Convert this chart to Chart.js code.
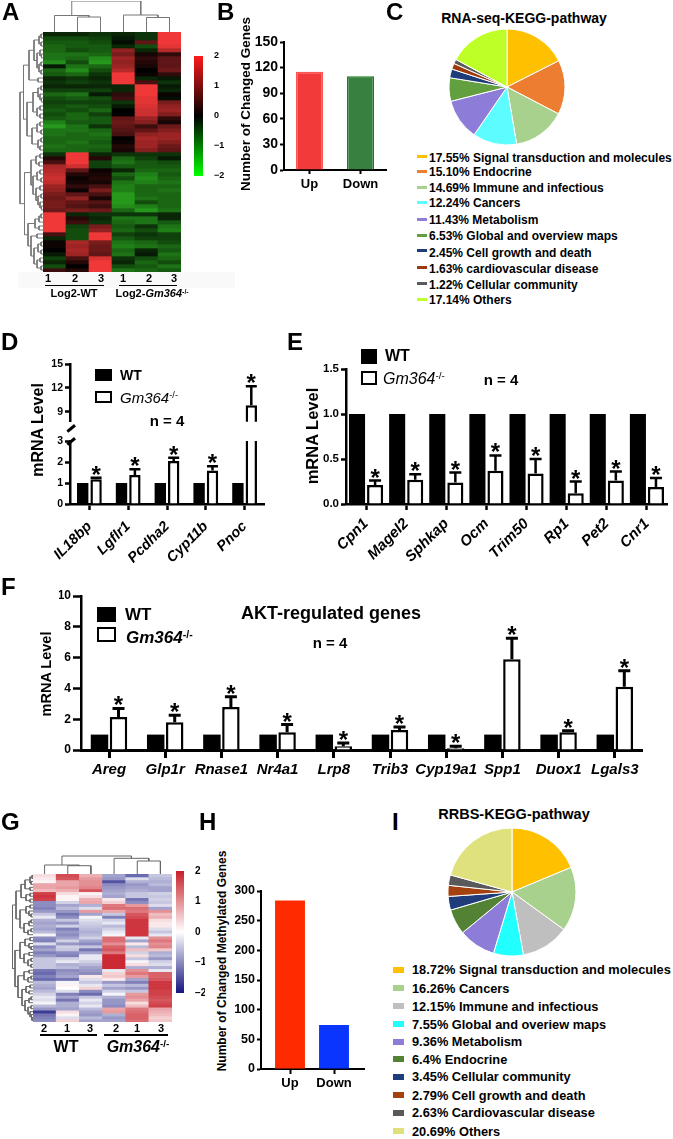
<!DOCTYPE html>
<html><head><meta charset="utf-8">
<style>
html,body{margin:0;padding:0;background:#fff;width:673px;height:1139px;overflow:hidden;position:relative}
canvas{position:absolute;display:block}
.t{position:absolute;white-space:nowrap;line-height:1;color:#000;font-family:"Liberation Sans",Arial,sans-serif}
.b{position:absolute}
sup{font-size:.62em;vertical-align:baseline;position:relative;top:-.5em}
</style>
<script src="https://cdn.jsdelivr.net/npm/chart.js@4"></script>
</head><body>
<script>
// ---------- data ----------
const heatARows=[
[-.3,-.3,-.4,-.3,-.4,2],[-.6,-.6,-.5,-.2,-.4,2],[-.7,-.7,-.6,-.1,.8,2],[-.8,-.7,-.7,-.3,-.6,1.9],[-.8,-.6,-.7,1.2,-.3,1.5],
[-.9,-.9,-.8,1,.2,.4],[-.9,-.8,-1.1,1.3,.4,.8],[-1.1,-.6,-1.2,1.2,.3,.8],[-.2,-.9,-.8,1.3,.2,.8],[-.8,-1.1,-.6,1.5,0,.9],
[-.7,-.8,-.4,2,.1,.4],[-.3,-.4,-.3,2,-.3,-.2],[-.4,-.5,-.4,2,.6,-.4],[-.3,-.3,-.3,-.3,2,-.2],[-.5,-.5,-.5,-.3,2,-.3],
[-.8,-.9,-.2,.4,2,.1],[-.6,-.7,-.6,.5,1.9,-.1],[-.5,-.5,-.5,-.4,1.9,1],[-.6,-.7,-.6,-.2,1.8,1.2],[-.7,-.6,-.8,0,1.7,1.3],
[-.6,-.8,-.5,0,1.7,1.1],[-.7,-.8,-.7,.8,1.3,.4],[-1,-.7,-.7,.9,1.1,.2],[-1.2,-.9,-.4,.8,.5,.9],[-.9,-.9,-.8,.7,.8,1.1],
[-.9,-.8,-.9,.6,1.2,1.3],[-.8,-.8,-.8,0,1.4,1.3],[-.8,-.9,-.7,.1,1.3,1.1],[-.9,-.8,-.8,.3,1.3,.9],[-.8,-.8,-.7,.2,1.1,.8],
[-.4,2,-.3,-.4,-.4,-.4],[.3,2,.3,-.8,-.5,-.2],[.6,2,-.5,-.9,-.7,-.6],[1.4,1.7,-.5,-.7,-.7,-.7],[1.5,.8,.1,-.3,-.8,-.8],
[1.6,.3,.2,-.8,-1,-.7],[1.7,.1,.3,-.6,-1.1,-.8],[1.6,.2,.2,-.9,-1,-.9],[1.3,.4,.6,-1,-.8,-.8],[1.2,.1,1,-1,-.8,-.9],
[1,.8,.6,-1.2,-.8,-.8],[.9,1.2,.2,-1.2,-.9,-.8],[1,.8,.7,-1.2,-.6,-.8],[1,.7,.5,-1.1,-1,-.8],[.9,1,.9,-.8,-1.2,-.9],
[2,-.3,-.4,-.4,-.4,-.3],[2,.3,-.3,-.9,-.9,-.3],[2,.5,-.4,-.8,-.9,-.7],[2,-.5,1,-.7,-.4,-.9],[2,-.6,1.2,-.8,-.6,-1],
[.6,-.6,2,-.5,-.4,-.5],[-.3,-.6,2,-.7,-.5,-.5],[.1,1.4,1,-.9,-.8,-.6],[.1,1.3,.9,-1,-.9,-.8],[0,1.4,.9,-.8,-.3,-.7],
[-.2,1.3,.8,-.9,-.2,-.9],[-.5,.6,1.8,-.4,-.6,-.8],[-.3,.3,2,-.3,-.8,-.6],[-.6,0,2,-.6,-.7,-.9],[.5,.3,2,-.9,-.8,-.7]];
const heatGRows=[
[.3,1.6,.7,-.8,-1.3,-.5],[.2,1.5,.9,-.9,-.3,-.6],[.1,.8,1,-1.5,-.7,-.7],[.8,.8,1,-1,-.9,-.6],[.8,.9,1.1,-.9,-.8,-.8],
[.6,.7,1.5,-.8,-.7,-.8],[1.7,.3,.1,-.7,-.5,-.4],[1.8,.1,.3,-.8,-.5,-.5],[1.7,.1,.7,.2,-1.2,-.4],[-1,-.4,.8,.4,-1,-.5],
[-1,-.8,-.7,1.2,.9,-.3],[-1.1,-.6,-.3,1.3,1.3,-.8],[-.9,-.9,.9,.8,1.2,1],[-.5,-1.2,-.8,-.5,1.5,.6],[-.2,-1,-.1,-1.1,1.6,.7],
[-.7,-.5,-.3,-.4,1.8,.3],[-.8,-.9,-.4,-.2,1.8,.2],[-.7,-.4,-.5,-.6,1.8,.2],[-.8,-1.1,-.6,-.4,1.8,-.3],[-.6,-.9,-.7,-.2,1.8,-.5],
[-.1,-1,-.6,-.1,1.8,-.2],[-1,-.8,-.4,1.3,-.2,1],[-1.1,-.4,-.8,1.3,-.8,1.2],[-.3,-.9,-1,1,.2,1],[-1,-.4,-.5,1.4,-.6,1.1],
[-.8,-.5,-1.2,1.5,.6,.5],[-1.1,-1,-.8,1.2,-.4,-.7],[-.9,-1.1,-.2,1.9,.3,-.6],[-.5,-.4,-.2,1.9,-.5,-.9],[-.5,-.2,-.4,1.9,-.1,-.4],
[-.5,-.7,-.6,1.9,.3,-.3],[-.5,-.6,-.8,1.9,-.7,-.7],[-1.2,-1,-.9,-.2,1,-.2],[-1.3,-.9,-1,.4,1.2,1.4],[-1.1,-.8,.2,.5,.9,1.4],
[-1.3,-1.2,-.3,.2,-.8,1.5],[-.6,-.1,-.5,-.9,-1.1,1.8],[-.7,.1,-.2,-.5,-.6,1.8],[-.8,0,.4,-.8,-.9,1.8],[-.6,-.3,-1,-.4,-.5,1.7],
[-.4,-1.1,-1.3,-.1,.9,1.7],[-.2,-.8,-.5,-.7,1,1.6],[-.3,-1.2,-.2,-.9,.8,1.5],[-.1,-.7,-.4,-.9,.3,1.6],[-.6,-.7,-.2,-1,.6,1.7],
[-.9,-.8,-.6,.8,1.2,.8],[-1.7,.3,-.8,.9,1.3,.7],[-1.2,.1,-.9,-.7,1.4,.6],[-1.1,-.3,-.6,-.9,1.4,.4],[-1,.4,-.8,-.8,1.3,.5]];
const topTreeA=[31,[16.5,0,[15,1,2]],[17,3,[14.5,4,5]]];
const topTreeG=[18,[9,0,[8.3,1,2]],[15.7,3,[13,4,5]]];
const leftTreeA=[23,
 [19.5,
  [14,[9,[4,[2,0,1],[2,2,3]],[6,[3,4,[1.5,5,6]],[4,[2,7,8],[2,9,10]]]],[5,11,12]],
  [16,[10,[5,[2,13,14],[3,15,[1.5,16,17]]],[6,[3,18,19],[3,20,21]]],[11,[6,[3,22,23],[2,24,25]],[5,[2,26,27],[3,28,29]]]]],
 [18.5,
  [12,[7,[3,30,31],[4,32,33]],[10,[6,[3,34,35],[2,36,37]],[7,[3,38,39],[5,[2,40,41],[3,42,[1.5,43,44]]]]]],
  [15,[8,[4,[2,45,46],47],[4,48,49]],[12,[6,50,51],[9,[5,[2,52,53],[2,54,55]],[6,[3,56,57],[2,58,59]]]]]]];
const leftTreeG=[20.5,
 [17,
  [12,[8,[3,[1,0,1],[2,2,3]],[3,4,5]],[7,[3,6,7],[3,8,9]]],
  [13,[7,[3,10,11],[4,12,[2,13,14]]],[9,[4,[2,15,16],17],[5,[2,18,19],20]]]],
 [18,
  [13,[8,[3,21,22],[4,23,[2,24,25]]],[9,[4,26,27],[5,[2,28,29],[2,30,31]]]],
  [15,[9,[4,32,33],[5,[2,34,35],36]],[11,[7,[3,37,38],[4,39,40]],[8,[4,[2,41,42],43],[5,[2,44,45],[3,46,[1.5,47,[1,48,49]]]]]]]]];
const heatTicks=[2,1,0,-1,-2];

const bLabels=['Up','Down'], bValues=[115,110], bTicks=[0,30,60,90,120,150];
const hLabels=['Up','Down'], hValues=[284,74], hTicks=[0,50,100,150,200,250,300];

const cPct=[17.55,15.10,14.69,12.24,11.43,6.53,2.45,1.63,1.22,17.14];
const cPctText=['17.55%','15.10%','14.69%','12.24%','11.43%','6.53%','2.45%','1.63%','1.22%','17.14%'];
const cNames=['Signal transduction and molecules','Endocrine','Immune and infectious','Cancers','Metabolism','Global and overview maps','Cell growth and death','cardiovascular disease','Cellular community','Others'];
const cColors=['#ffc000','#ed7d31','#a9d18e','#5cfcff','#8e7cd9','#62a03f','#1f3c7a','#9c3a0e','#5a5a5a','#bfff28'];
const iPct=[18.72,16.26,12.15,7.55,9.36,6.4,3.45,2.79,2.63,20.69];
const iPctText=['18.72%','16.26%','12.15%','7.55%','9.36%','6.4%','3.45%','2.79%','2.63%','20.69%'];
const iNames=['Signal transduction and molecules','Cancers','Immune and infectious','Global and overiew maps','Metabolism','Endocrine','Cellular community','Cell growth and death','Cardiovascular disease','Others'];
const iColors=['#ffc000','#a9d18e','#bfbfbf','#22ffff','#8e7cd9','#548235','#1f3d7a','#a5410e','#595959','#dfe27c'];

const dGenes=['IL18bp','Lgflr1','Pcdha2','Cyp11b','Pnoc'];
const dWT=[1,1,1,1,1], dKO=[1.18,1.38,2.05,1.6,9.8], dErr=[.07,.27,.15,.2,2.4];
const dTicksLow=[0,1,2,3], dTicksHigh=[9,12,15];
const eGenes=['Cpn1','Magel2','Sphkap','Ocm','Trim50','Rp1','Pet2','Cnr1'];
const eWT=[1,1,1,1,1,1,1,1], eKO=[.21,.27,.24,.37,.34,.12,.26,.19], eErr=[.05,.06,.11,.17,.16,.13,.10,.10];
const eTicks=[0,.5,1,1.5];
const fGenes=['Areg','Glp1r','Rnase1','Nr4a1','Lrp8','Trib3','Cyp19a1','Spp1','Duox1','Lgals3'];
const fWT=[1,1,1,1,1,1,1,1,1,1], fKO=[2.15,1.8,2.8,1.15,.25,1.3,.12,5.9,1.15,4.1], fErr=[.55,.45,.65,.5,.2,.2,.13,1.35,.1,1.05];
const fTicks=[0,2,4,6,8,10];

// ---------- helpers ----------
const FF='"Liberation Sans",Arial,sans-serif';
Chart.defaults.font.family=FF;
Chart.defaults.color='#000';
function mk(box,cfg,extra){
  const c=document.createElement('canvas');
  c.width=box[2]-box[0];c.height=box[3]-box[1];
  c.style.left=box[0]+'px';c.style.top=box[1]+'px';
  c.style.width=c.width+'px';c.style.height=c.height+'px';
  if(extra)c.style.filter=extra;
  document.body.appendChild(c);
  cfg.options=Object.assign({responsive:false,animation:false,devicePixelRatio:1,events:[]},cfg.options||{});
  cfg.options.plugins=Object.assign({legend:{display:false},tooltip:{enabled:false}},cfg.options.plugins||{});
  return new Chart(c,cfg);
}
function txt(html,x,y,o){
  o=o||{};
  const d=document.createElement('div');d.className='t';d.innerHTML=html;
  d.style.left=x+'px';d.style.top=y+'px';
  d.style.fontSize=(o.size||12)+'px';
  d.style.fontWeight=o.weight||'bold';
  if(o.style)d.style.fontStyle=o.style;
  const ax=o.anchor==='c'?'-50%':'0';
  d.style.transform='translate('+ax+',-50%)';
  if(o.rot){d.style.transform='translate(-50%,-50%) rotate('+o.rot+'deg)';}
  document.body.appendChild(d);return d;
}
function rect(x,y,w,h,css){
  const d=document.createElement('div');d.className='b';
  d.style.cssText='left:'+x+'px;top:'+y+'px;width:'+w+'px;height:'+h+'px;'+(css||'background:#000');
  document.body.appendChild(d);return d;
}
function errorBars(o){
  return {id:'errorBars',afterDatasetsDraw(chart){
    const ctx=chart.ctx,ys=chart.scales.y,ds=chart.data.datasets[o.dataset],meta=chart.getDatasetMeta(o.dataset);
    ctx.save();
    ctx.strokeStyle='#000';ctx.fillStyle='#000';ctx.lineWidth=o.lw;
    o.err.forEach((e,i)=>{
      const raw=ds.data[i];const v=(raw&&typeof raw==='object')?raw.y:raw;
      if(v==null||v+e>ys.max)return;
      const x=meta.data[i].x,y0=ys.getPixelForValue(v),y1=ys.getPixelForValue(v+e);
      ctx.beginPath();ctx.moveTo(x,y0);ctx.lineTo(x,y1);ctx.moveTo(x-o.cap/2,y1);ctx.lineTo(x+o.cap/2,y1);ctx.stroke();
      ctx.font='bold 24px '+FF;ctx.textAlign='center';ctx.textBaseline='alphabetic';
      ctx.fillText('*',x,y1-9+14);
    });
    ctx.restore();
  }};
}
function axisY(o){
  return {type:'linear',min:o.min,max:o.max,
    afterBuildTicks:s=>{s.ticks=o.ticks.map(v=>({value:v}));},
    afterFit:s=>{s.width=o.w;},
    grid:{drawOnChartArea:false,drawTicks:true,tickLength:o.tl||6,tickWidth:o.lw,tickColor:'#000'},
    border:{display:true,color:'#000',width:o.lw},
    ticks:{font:o.font,color:'#000',padding:o.pad||2,callback:o.cb||(v=>v),autoSkip:false}};
}
function axisXCat(o){
  return {type:'category',offset:true,
    afterFit:s=>{s.height=o.h;},
    grid:{offset:false,drawOnChartArea:false,drawTicks:true,tickLength:o.tl||6,tickWidth:o.lw,tickColor:'#000'},
    border:{display:true,color:'#000',width:o.lw},
    ticks:{font:o.font,color:'#000',padding:o.pad||2,autoSkip:false,maxRotation:o.rot||0,minRotation:o.rot||0}};
}
function axisXLin(o){
  return {type:'linear',offset:false,min:o.min,max:o.max,
    afterBuildTicks:s=>{s.ticks=o.labels.map((_,i)=>({value:i}));},
    afterFit:s=>{s.height=o.h;},
    grid:{offset:false,drawOnChartArea:false,drawTicks:true,tickLength:o.tl||6,tickWidth:o.lw,tickColor:'#000'},
    border:{display:true,color:'#000',width:o.lw},
    ticks:{font:o.font,color:'#000',padding:o.pad||2,autoSkip:false,maxRotation:0,minRotation:0,callback:v=>o.labels[v]}};
}
function pad(box,plot,yW,xH){
  return {left:plot[0]-box[0]-yW,top:plot[1]-box[1],right:box[2]-plot[2],bottom:box[3]-plot[3]-xH};
}
const pts=a=>a.map((v,i)=>({x:i,y:v}));
function walk(node,leaf,out){
  if(typeof node==='number')return [node+.5,0];
  const a=walk(node[1],leaf,out),b=walk(node[2],leaf,out),h=node[0];
  out.push(leaf(a[0],a[1]),leaf(a[0],h),leaf(b[0],h),leaf(b[0],b[1]),{x:null,y:null});
  return [(a[0]+b[0])/2,h];
}
function dendro(box,tree,horizontal,maxH,count,color){
  const out=[];
  walk(tree,horizontal?(p,h)=>({x:p,y:h}):(p,h)=>({x:h,y:p}),out);
  mk(box,{type:'scatter',data:{datasets:[{data:out,showLine:true,spanGaps:false,pointRadius:0,borderColor:color,borderWidth:1,borderJoinStyle:'miter'}]},
    options:{layout:{padding:0},scales:horizontal?
      {x:{type:'linear',display:false,min:0,max:count},y:{type:'linear',display:false,min:0,max:maxH}}:
      {x:{type:'linear',display:false,min:0,max:maxH,reverse:true},y:{type:'linear',display:false,min:0,max:count,reverse:true}}}});
}
function heat(box,rows,colorOf){
  mk(box,{type:'bar',data:{labels:rows[0].map((_,i)=>String(i)),
    datasets:rows.map(r=>({data:r.map(()=>1),backgroundColor:r.map(colorOf),borderWidth:0,barPercentage:1,categoryPercentage:1}))},
    options:{layout:{padding:0},scales:{x:{stacked:true,display:false},y:{stacked:true,display:false,reverse:true,min:0,max:rows.length}}}},'blur(.5px)');
}
const lerp=(a,b,t)=>'rgb('+a.map((v,i)=>Math.round(v+(b[i]-v)*t)).join(',')+')';
const colorA=v=>v>=0?lerp([0,0,0],[240,56,56],v/2):lerp([0,0,0],[64,255,48],-v/2);
const colorG=v=>v>=0?lerp([255,255,255],[200,30,40],v/2):lerp([255,255,255],[25,25,130],-v/2);
function colorbar(box,plot,stops,font){
  mk(box,{type:'bar',data:{labels:[''],datasets:[{data:[[-2,2]],borderWidth:0,barPercentage:1,categoryPercentage:1,
    backgroundColor:c=>{const a=c.chart.chartArea;if(!a)return '#000';const g=c.chart.ctx.createLinearGradient(0,a.top,0,a.bottom);
      stops.forEach((s,i)=>g.addColorStop(i/(stops.length-1),s));return g;}}]},
    options:{layout:{padding:{left:plot[0]-box[0],top:plot[1]-box[1],bottom:box[3]-plot[3],right:0}},
      scales:{x:{display:false},y:{type:'linear',position:'right',min:-2,max:2,
        afterBuildTicks:s=>{s.ticks=heatTicks.map(v=>({value:v}));},
        afterFit:s=>{s.width=box[2]-plot[2];},
        grid:{display:false},border:{display:false},
        ticks:{font:font,color:'#000',padding:3,callback:v=>v<0?'\u2212'+(-v):String(v)}}}}});
}
function pie(cx,cy,r,vals,cols){
  const m=r+3;
  mk([cx-m,cy-m,cx+m,cy+m],{type:'pie',data:{labels:vals.map(String),datasets:[{data:vals,backgroundColor:cols,borderColor:'#fff',borderWidth:1,radius:r}]},
    options:{layout:{padding:0}}});
}
function legendRow(swx,swy,sww,swh,col,tx,ty,label,size){
  rect(swx,swy-swh/2,sww,swh,'background:'+col);
  txt(label,tx,ty,{size:size,weight:'bold'});
}

// ---------- A ----------
rect(18,272,217,16,'background:#f9f9f9');
heat([43,32,181,272],heatARows,colorA);
dendro([43,1,181,32],topTreeA,true,31,6,'#777');
dendro([16,32,43,272],leftTreeA,false,27,60,'#777');
colorbar([194,46,225,186],[194,56,203,176],['#ff1a1a','#000','#00ff00'],{size:9,weight:'bold'});
[[48,'1'],[75,'2'],[101,'3'],[123,'1'],[149,'2'],[174,'3']].forEach(a=>txt(a[1],a[0],278,{size:11,anchor:'c'}));
rect(45,284.5,59,1.5);rect(119,284.5,58,1.5);
txt('Log2-WT',74,293,{size:11,anchor:'c'});
txt('Log2-<i>Gm364</i><sup>-/-</sup>',152,293,{size:11,anchor:'c'});

// ---------- B ----------
{const box=[240,28,400,200],pl=[284,42,386,170];
mk(box,{type:'bar',data:{labels:bLabels,datasets:[{data:bValues,backgroundColor:['#f23a3a','#37803f'],borderColor:['#f55','#1e7a22'],borderWidth:1.5,categoryPercentage:.53,barPercentage:1}]},
 options:{layout:{padding:pad(box,pl,30,28)},scales:{
  x:axisXCat({h:28,lw:2,tl:4,pad:3,font:{size:13,weight:'bold'}}),
  y:axisY({min:0,max:150,ticks:bTicks,w:30,lw:2,tl:4,font:{size:14,weight:'bold'}})}}});
txt('Number of Changed Genes',246,104,{size:13.5,rot:-90});}

// ---------- C ----------
txt('RNA-seq-KEGG-pathway',524,18,{size:14,anchor:'c'});
pie(507,87,58,cPct,cColors);
{const sy=[156,171.5,187,202.5,219,235,250.5,267,283,299],ty=[158,172,188,203,220,236,253,269,285,300];
cNames.forEach((n,i)=>legendRow(417,sy[i],10,3,cColors[i],429,ty[i],cPctText[i]+' '+n,12));}

// ---------- D ----------
{const hiMin=7.73;
 const boxH=[40,350,280,430],plH=[70,364,264,427];
 mk(boxH,{type:'bar',data:{labels:dGenes,datasets:[
   {data:dWT.map(v=>v>hiMin?v:null),backgroundColor:'#000',clip:0,categoryPercentage:.69,barPercentage:.85},
   {data:dKO.map(v=>v>hiMin?v:null),backgroundColor:'#fff',borderColor:'#000',borderWidth:2.5,clip:0,categoryPercentage:.69,barPercentage:.85}]},
  options:{layout:{padding:pad(boxH,plH,22,0)},scales:{
   x:{type:'category',offset:true,display:false},
   y:axisY({min:hiMin,max:15,ticks:dTicksHigh,w:22,lw:2.5,tl:5,font:{size:10.5,weight:'bold'}})}},
  plugins:[errorBars({dataset:1,err:dErr,cap:11,lw:2.5})]});
 const boxL=[40,431,280,585],plL=[70,441,264,504];
 mk(boxL,{type:'bar',data:{labels:dGenes,datasets:[
   {data:dWT,backgroundColor:'#000',clip:0,categoryPercentage:.69,barPercentage:.85},
   {data:dKO,backgroundColor:'#fff',borderColor:'#000',borderWidth:2.5,clip:0,categoryPercentage:.69,barPercentage:.85}]},
  options:{layout:{padding:pad(boxL,plL,22,70)},scales:{
   x:axisXCat({h:70,lw:2.5,tl:6,pad:8,rot:45,font:{size:14.5,weight:'bold',style:'italic'}}),
   y:axisY({min:0,max:3,ticks:dTicksLow,w:22,lw:2.5,tl:5,font:{size:10.5,weight:'bold'}})}},
  plugins:[errorBars({dataset:1,err:dErr,cap:11,lw:2.5})]});
 rect(66,427,10,2.5,'background:#000;transform:rotate(-40deg)');
 rect(66,440,10,2.5,'background:#000;transform:rotate(-40deg)');
 txt('mRNA Level',38,430,{size:16,rot:-90});
 rect(95,369,17,12);rect(95,391,17,12,'background:#fff;border:2.5px solid #000;box-sizing:border-box');
 txt('WT',120,375,{size:14});
 txt('<i>Gm364</i><sup>-/-</sup>',120,398,{size:15,weight:'normal'});
 txt('n = 4',167,420,{size:15,anchor:'c'});
}

// ---------- E ----------
{const box=[296,355,685,575],pl=[346,369,667,504];
mk(box,{type:'bar',data:{labels:eGenes,datasets:[
  {data:eWT,backgroundColor:'#000',categoryPercentage:.9,barPercentage:.89},
  {data:eKO,backgroundColor:'#fff',borderColor:'#000',borderWidth:2.5,categoryPercentage:.9,barPercentage:.89}]},
 options:{layout:{padding:pad(box,pl,30,65)},scales:{
  x:axisXCat({h:65,lw:2.5,tl:6,pad:5,rot:45,font:{size:15,weight:'bold',style:'italic'}}),
  y:axisY({min:0,max:1.5,ticks:eTicks,w:30,lw:2.5,tl:5,font:{size:11.5,weight:'bold'},cb:v=>v.toFixed(1)})}},
 plugins:[errorBars({dataset:1,err:eErr,cap:12,lw:2.5})]});
txt('mRNA Level',312,436,{size:16.5,rot:-90});
rect(361,349,16,15);rect(361,371,16,14,'background:#fff;border:2.5px solid #000;box-sizing:border-box');
txt('WT',385,356,{size:16});
txt('<i>Gm364</i><sup>-/-</sup>',383,379,{size:16,weight:'normal'});
txt('n = 4',501,379,{size:15,anchor:'c'});}

// ---------- F ----------
{const box=[40,585,673,790],pl=[81,596,642,750];
const xmin=(81-109)/56.2,xmax=(642-109)/56.2;
mk(box,{type:'bar',data:{labels:fGenes,datasets:[
  {data:pts(fWT),backgroundColor:'#000',categoryPercentage:.676,barPercentage:.92},
  {data:pts(fKO),backgroundColor:'#fff',borderColor:'#000',borderWidth:2.5,categoryPercentage:.676,barPercentage:.92}]},
 options:{layout:{padding:pad(box,pl,22,34)},scales:{
  x:axisXLin({min:xmin,max:xmax,labels:fGenes,h:34,lw:3,tl:8,pad:3,font:{size:15,weight:'bold',style:'italic'}}),
  y:axisY({min:0,max:10,ticks:fTicks,w:22,lw:2.5,tl:8,pad:2,font:{size:12,weight:'bold'}})}},
 plugins:[errorBars({dataset:1,err:fErr,cap:12,lw:3})]});
txt('mRNA Level',46,674,{size:14.5,rot:-90});
rect(97,607,19,15);rect(97,627,19,15,'background:#fff;border:2.5px solid #000;box-sizing:border-box');
txt('WT',125,614,{size:17});
txt('<i>Gm364</i><sup>-/-</sup>',126,637,{size:17,weight:'bold'});
txt('AKT-regulated genes',331,613,{size:18,anchor:'c'});
txt('n = 4',330,642,{size:15,anchor:'c'});}

// ---------- G ----------
heat([33,874,172,1022],heatGRows,colorG);
dendro([33,854,172,874],topTreeG,true,20,6,'#666');
dendro([10,874,33,1022],leftTreeG,false,23,50,'#666');
colorbar([176,861,205,1003],[176,871,184,993],['#c8202a','#ffffff','#15157f'],{size:10,weight:'bold'});
[[44,'2'],[67,'1'],[90,'3'],[116,'2'],[137,'1'],[161,'3']].forEach(a=>txt(a[1],a[0],1028,{size:11,anchor:'c'}));
rect(40,1033.5,57,2);rect(104,1033.5,64,2);
txt('WT',66,1047,{size:16,anchor:'c'});
txt('<i>Gm364</i><sup>-/-</sup>',138,1047,{size:16,anchor:'c'});

// ---------- H ----------
{const box=[232,880,380,1100],pl=[261,891,364,1069];
mk(box,{type:'bar',data:{labels:hLabels,datasets:[{data:pts(hValues),backgroundColor:['#ff2a00','#0a35ff'],categoryPercentage:.68,barPercentage:1}]},
 options:{layout:{padding:pad(box,pl,26,28)},scales:{
  x:axisXLin({min:(261-290)/44,max:(364-290)/44,labels:hLabels,h:28,lw:2,tl:5,pad:2,font:{size:13,weight:'bold'}}),
  y:axisY({min:0,max:300,ticks:hTicks,w:26,lw:2,tl:4,font:{size:12.5,weight:'bold'}})}}});
txt('Number of Changed Methylated Genes',222,961,{size:12,rot:-90});}

// ---------- I ----------
txt('RRBS-KEGG-pathway',514,814,{size:14.5,anchor:'c'});
pie(512,892,64,iPct,iColors);
{const sy=[970,988,1006,1024,1042,1059,1077,1095,1113,1131],ty=[970,989,1007,1025,1042,1060,1077,1096,1113,1132];
iNames.forEach((n,i)=>legendRow(393,sy[i],11,6,iColors[i],412,ty[i],iPctText[i]+' '+n,12.8));}

// ---------- panel letters ----------
[['A',2,12],['B',217,12],['C',386,12],['D',1,342],['E',287,342],['F',1,587],['G',1,822],['H',199,822],['I',392,822]]
 .forEach(a=>txt(a[0],a[1],a[2],{size:24}));
</script>
</body></html>
